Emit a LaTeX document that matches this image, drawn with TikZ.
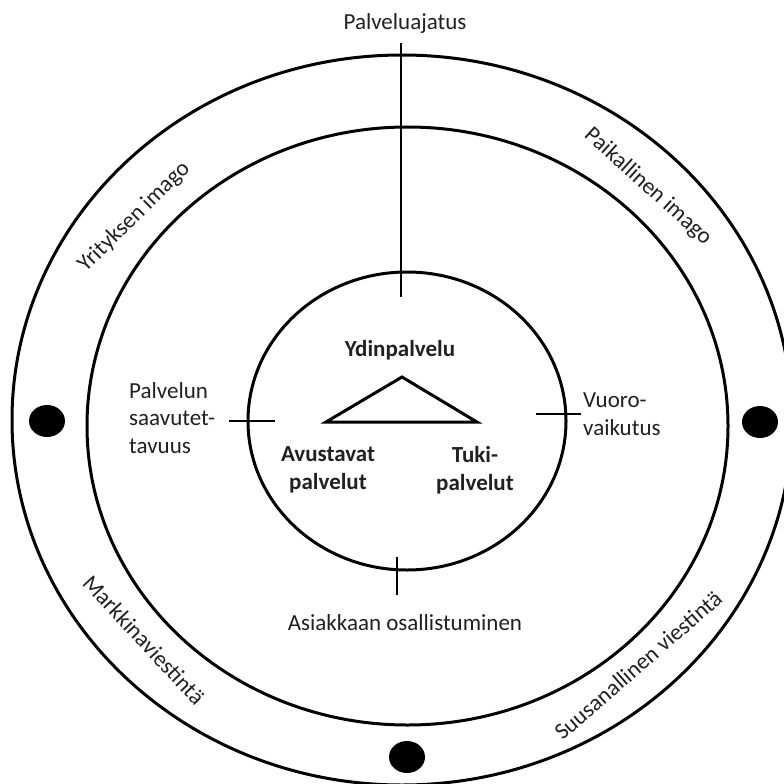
\documentclass[tikz,border=0pt]{standalone}
\usepackage{fontspec}
\setmainfont{Carlito}
\usetikzlibrary{shapes.geometric}
\definecolor{ink}{gray}{0.13}
\begin{document}
\begin{tikzpicture}[x=1pt,y=-1pt,
  ring/.style={ellipse, draw=black, line width=3pt, inner sep=0pt},
  dot/.style={ellipse, fill=black, minimum width=36pt, minimum height=32pt, inner sep=0pt},
  thin/.style={draw=black, line width=1.2pt},
  lbl/.style={font=\fontsize{23}{27.5}\selectfont, text=ink, inner sep=0pt},
  blbl/.style={lbl, font=\fontsize{23}{28}\selectfont\bfseries, align=center}]

% canvas
\useasboundingbox (0,0) rectangle (784,784);
\fill[white] (0,0) rectangle (784,784);
\clip (0,0) rectangle (784,784);

% the three rings
\node[ring, minimum width=780pt, minimum height=730pt] (outer) at (402,420) {};
\node[ring, minimum width=641pt, minimum height=598pt] (middle) at (407.5,426) {};
\node[ring, minimum width=318pt, minimum height=298pt] (inner) at (407,421) {};

% black dots between the outer rings
\node[dot] (dotL) at (47,421) {};
\node[dot] (dotR) at (760,422) {};
\node[dot] (dotB) at (407,757) {};

% service triangle
\coordinate (apex) at (402,377);
\coordinate (bl) at (326,422);
\coordinate (br) at (477,422);
\draw[line width=3pt, line join=miter] (apex) -- (bl) -- (br) -- cycle;

% core labels
\node[blbl] (core) at (400,350) {Ydinpalvelu};
\node[blbl] (aux) at (328,470) {Avustavat\\palvelut};
\node[blbl] (supp) at (475,470) {Tuki-\\palvelut};

% outer labels
\node[lbl] (idea) at (405,23) {Palveluajatus};
\node[lbl, align=left, anchor=west] (access) at (129,418) {Palvelun\\saavutet-\\tavuus};
\node[lbl, align=left, anchor=west] (inter) at (583,414) {Vuoro-\\vaikutus};
\node[lbl] (part) at (405,623) {Asiakkaan osallistuminen};

% ring labels
\node[lbl, rotate=44.5] (corp) at (134,217) {Yrityksen imago};
\node[lbl, rotate=-42] (local) at (648,187) {Paikallinen imago};
\node[lbl, rotate=-47] (mark) at (144,640) {Markkinaviestintä};
\node[lbl, rotate=41] (wom) at (638,665) {Suusanallinen viestintä};

% connector ticks
\coordinate (ideaTop) at (401,43);
\coordinate (ideaEnd) at (401,297);
\draw[thin] (ideaTop) -- (ideaEnd);
\coordinate (accA) at (229,421);
\coordinate (accB) at (275,421);
\draw[thin] (accA) -- (accB);
\coordinate (intA) at (536,414);
\coordinate (intB) at (581,414);
\draw[thin] (intA) -- (intB);
\coordinate (partA) at (397,557);
\coordinate (partB) at (397,595);
\draw[thin] (partA) -- (partB);
\end{tikzpicture}
\end{document}
